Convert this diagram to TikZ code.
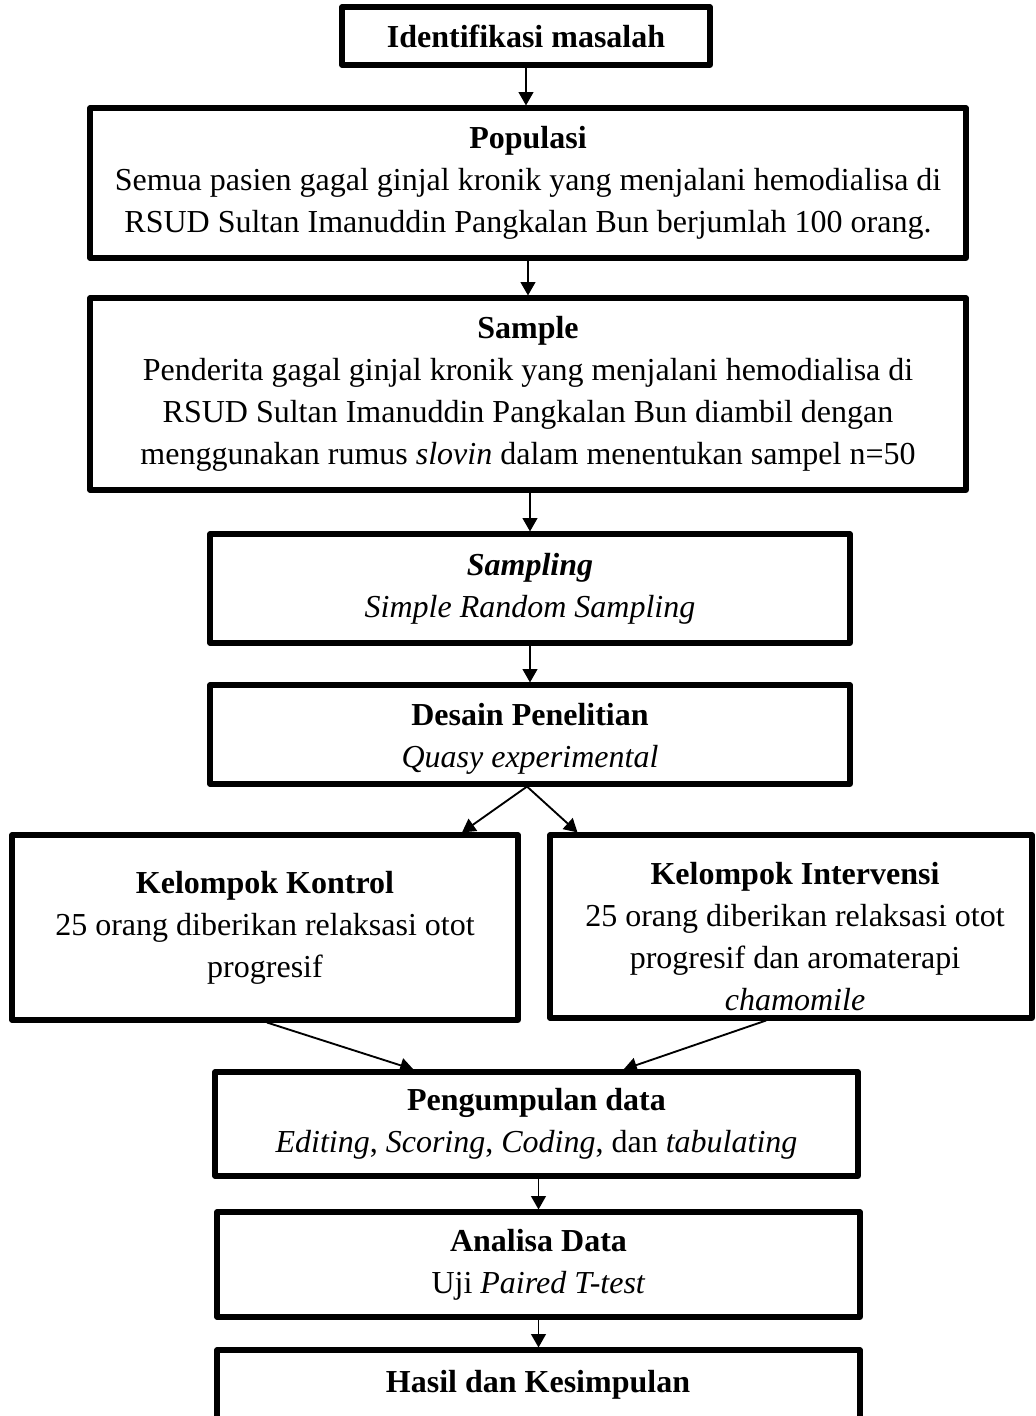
\documentclass[tikz,border=0pt]{standalone}
\usepackage{fontspec}
\setmainfont{Liberation Serif}
\usetikzlibrary{arrows.meta,calc}
\begin{document}
\begin{tikzpicture}[x=0.75pt,y=-0.75pt,
  box/.style 2 args={draw, line width=3.8pt, line join=round, inner sep=0pt,
    align=center, font=\fontsize{24}{31.5}\selectfont,
    minimum width=#1*0.75pt, minimum height=#2*0.75pt},
  txt/.style={inner sep=0pt, align=center, font=\fontsize{24}{31.5}\selectfont},
  arr/.style={line width=1.4pt, -{Triangle[length=10pt,width=11pt]}}]
\useasboundingbox (0,0) rectangle (1035,1416);
\clip (0,0) rectangle (1035,1416);

% main column of steps
\node[box={368}{58}] (b1) at (526,36) {\textbf{Identifikasi masalah}};
\node[box={876}{150}] (b2) at (528,183) {\textbf{Populasi}\\
  Semua pasien gagal ginjal kronik yang menjalani hemodialisa di\\
  RSUD Sultan Imanuddin Pangkalan Bun berjumlah 100 orang.};
\node[box={876}{192}] (b3) at (528,394) {\textbf{Sample}\\
  Penderita gagal ginjal kronik yang menjalani hemodialisa di\\
  RSUD Sultan Imanuddin Pangkalan Bun diambil dengan\\
  menggunakan rumus \textit{slovin} dalam menentukan sampel n=50};
\node[box={640}{109}] (b4) at (530,588.5) {\textbf{\textit{Sampling}}\\
  \textit{Simple Random Sampling}};
\node[box={640}{99}] (b5) at (530,734.5) {};
\node[txt] (t5) at (530,739) {\textbf{Desain Penelitian}\\
  \textit{Quasy experimental}};

% the two groups
\node[box={506}{185}] (b6) at (265,927.5) {\textbf{Kelompok Kontrol}\\
  25 orang diberikan relaksasi otot\\ progresif};
\node[box={482}{183}] (b7) at (791,926.5) {};
\node[txt] (t7) at (795,937) {\textbf{Kelompok Intervensi}\\
  25 orang diberikan relaksasi otot\\ progresif dan aromaterapi\\
  \textit{chamomile}};

% data handling
\node[box={643}{104}] (b8) at (536.5,1124) {\textbf{Pengumpulan data}\\
  \textit{Editing}, \textit{Scoring}, \textit{Coding}, dan \textit{tabulating}};
\node[box={643}{105}] (b9) at (538.5,1264.5) {\textbf{Analisa Data}\\
  Uji \textit{Paired T-test}};
\node[box={643}{110}] (b10) at (538.5,1405) {};
\node[txt, anchor=base] (t10) at (538,1392) {\textbf{Hasil dan Kesimpulan}};

% connectors
\draw[arr] (b1.south) -- (b1.south |- b2.north);
\draw[arr] (b2.south) -- (b3.north);
\draw[arr] (b4.north |- b3.south) -- (b4.north);
\draw[arr] (b4.south) -- (b5.north);
\draw[arr] ($(b5.south)+(-3,0)$) -- ($(b6.north)+(197,0)$);
\draw[arr] ($(b5.south)+(-3,0)$) -- ($(b7.north)+(-213.5,0)$);
\draw[arr] ($(b6.south)+(2,0)$) -- ($(b8.north)+(-123,0)$);
\draw[arr] ($(b7.south)+(-25,0)$) -- ($(b8.north)+(87,0)$);
\draw[arr] (b9.north |- b8.south) -- (b9.north);
\draw[arr] (b9.south) -- (b10.north);
\end{tikzpicture}
\end{document}
